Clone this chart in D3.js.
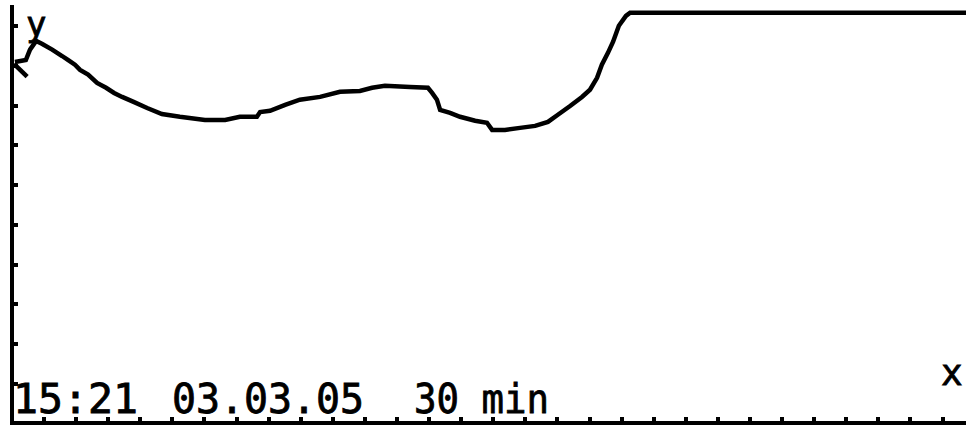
<!DOCTYPE html>
<html>
<head>
<meta charset="utf-8">
<script src="https://cdn.jsdelivr.net/npm/d3@7/dist/d3.min.js"></script>
<style>
  html, body { margin: 0; padding: 0; background: #fff; }
  svg { display: block; }
  text { font-family: "DejaVu Sans Mono", monospace; fill: #000; stroke: #000; stroke-width: 0.8px; }
</style>
</head>
<body>
<svg id="chart" width="966" height="425"></svg>
<script>
// ---- data (time in minutes over a 30 min window, value in display units) ----
const timeMin = [0.11, 0.45, 0.58, 0.77, 0.95, 1.27, 1.58, 1.76, 1.98, 2.14, 2.39, 2.67, 2.95, 3.20, 3.45,
  3.79, 4.23, 4.69, 5.25, 6.03, 6.66, 7.12, 7.65, 7.75, 8.06, 8.53, 8.99, 9.62, 10.24, 10.86, 11.24,
  11.64, 12.42, 12.98, 13.11, 13.26, 13.36, 13.67, 13.98, 14.45, 14.82, 14.98, 15.38, 15.85, 16.32,
  16.72, 17.03, 17.41, 17.78, 18.03, 18.25, 18.40, 18.59, 18.75, 18.93, 19.15, 19.28, 30];
const values = [90.9, 91.4, 94.0, 96.2, 95.5, 94.0, 92.4, 91.4, 90.2, 88.9, 87.7, 85.6, 84.4, 83.1, 82.1,
  80.9, 79.3, 77.8, 77.1, 76.3, 76.3, 77.1, 77.1, 78.3, 78.6, 80.1, 81.4, 82.1, 83.4, 83.6, 84.4,
  84.9, 84.6, 84.4, 83.1, 81.4, 78.8, 78.1, 77.1, 76.1, 75.6, 73.8, 73.8, 74.3, 74.8,
  75.8, 77.6, 79.8, 82.1, 83.9, 86.9, 90.2, 93.2, 96.0, 100.0, 102.5, 103.3, 103.3];
const markTime = [0.08, 0.49];
const markValues = [90.4, 87.2];
const xTicks = d3.range(1, 30);          // one tick per minute
const yTicks = d3.range(10, 101, 10);
const labelTime = "15:21";
const labelDate = "03.03.05";
const labelSpan = "30 min";
const axisLabelX = "x";
const axisLabelY = "y";

// ---- drawing ----
const svg = d3.select("#chart");
const x = d3.scaleLinear().domain([0, 30]).range([11.4, 974.1]);
const y = d3.scaleLinear().domain([0, 106.5]).range([423, 0]);

// axes
const gx = svg.append("g").attr("transform", "translate(0,423)")
  .call(d3.axisBottom(x).tickValues(xTicks).tickSize(-6).tickSizeOuter(0).tickFormat(""));
gx.select(".domain").remove();
gx.selectAll(".tick line").attr("stroke", "#000").attr("stroke-width", 4).attr("shape-rendering", "crispEdges");

const gy = svg.append("g").attr("transform", "translate(12,0)")
  .call(d3.axisLeft(y).tickValues(yTicks).tickSize(-6).tickSizeOuter(0).tickFormat(""));
gy.select(".domain").remove();
gy.selectAll(".tick line").attr("stroke", "#000").attr("stroke-width", 4).attr("shape-rendering", "crispEdges");

svg.append("line").attr("x1", 10).attr("x2", 966).attr("y1", 423).attr("y2", 423)
  .attr("stroke", "#000").attr("stroke-width", 4).attr("shape-rendering", "crispEdges");
svg.append("line").attr("x1", 12).attr("x2", 12).attr("y1", 5).attr("y2", 425)
  .attr("stroke", "#000").attr("stroke-width", 4).attr("shape-rendering", "crispEdges");

// series
const pts = timeMin.map((t, i) => [t, values[i]]);
const line = d3.line().x(d => x(d[0])).y(d => y(d[1]));
svg.append("path").datum(pts).attr("d", line)
  .attr("fill", "none").attr("stroke", "#000").attr("stroke-width", 4.5)
  .attr("stroke-linejoin", "miter");

const mpts = markTime.map((t, i) => [t, markValues[i]]);
svg.append("path").datum(mpts).attr("d", line)
  .attr("fill", "none").attr("stroke", "#000").attr("stroke-width", 4.5);

// labels
svg.append("text").attr("x", 26).attr("y", 36).attr("font-size", 34).text(axisLabelY);
svg.append("text").attr("x", 941).attr("y", 385).attr("font-size", 36).text(axisLabelX);
svg.append("text").attr("x", 13).attr("y", 413).attr("font-size", 40)
  .attr("textLength", 125).attr("lengthAdjust", "spacingAndGlyphs").text(labelTime);
svg.append("text").attr("x", 172).attr("y", 413).attr("font-size", 40)
  .attr("textLength", 192).attr("lengthAdjust", "spacingAndGlyphs").text(labelDate);
svg.append("text").attr("x", 414).attr("y", 413).attr("font-size", 40)
  .attr("textLength", 135).attr("lengthAdjust", "spacingAndGlyphs").text(labelSpan);
</script>
</body>
</html>
